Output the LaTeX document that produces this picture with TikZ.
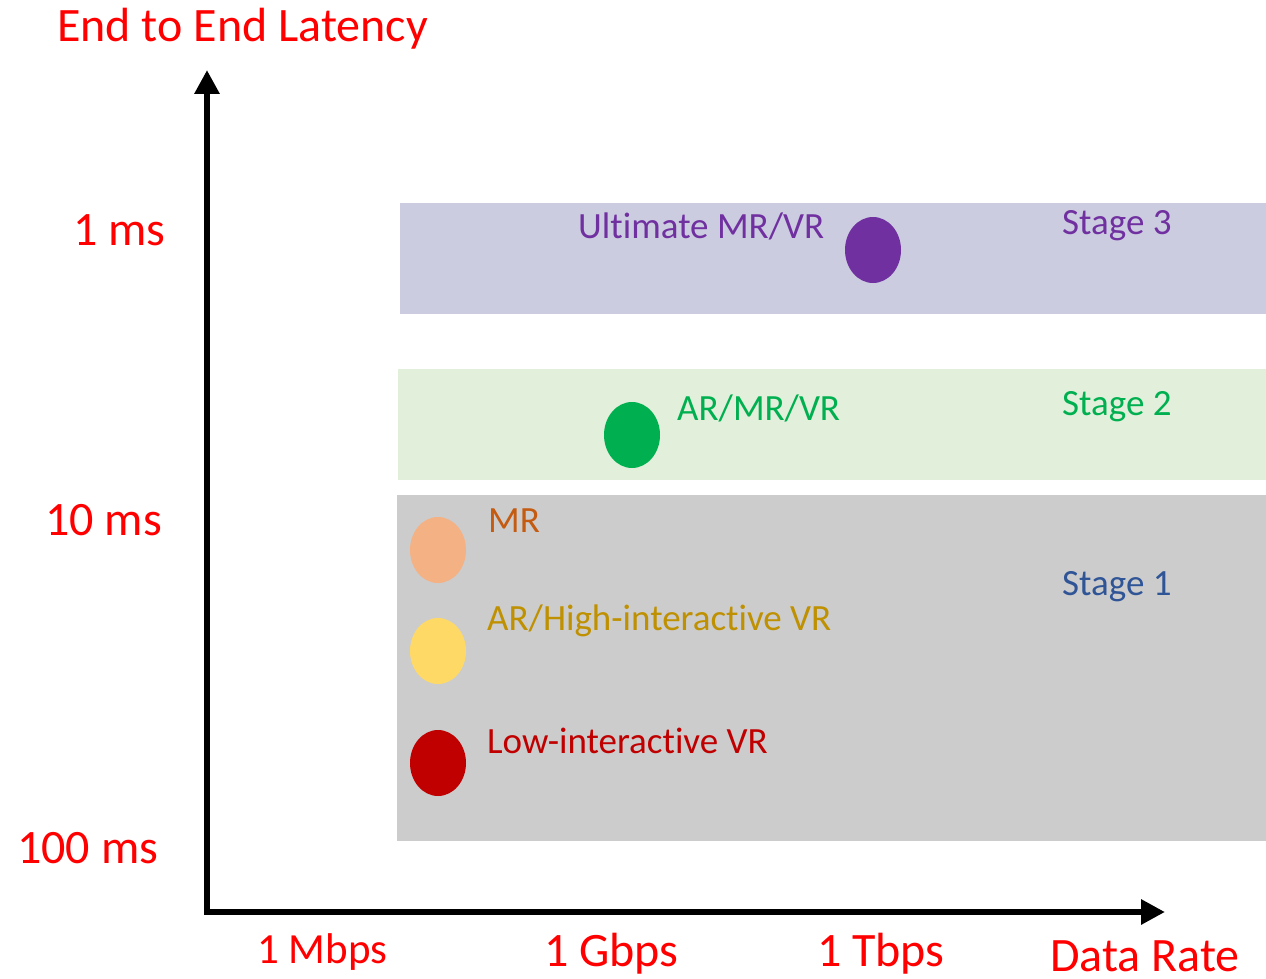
\documentclass[tikz,border=0pt]{standalone}
\usepackage{fontspec}
\setmainfont[Ligatures=NoCommon]{Carlito}
\usetikzlibrary{arrows.meta,shapes.geometric}
\definecolor{axred}{HTML}{FF0000}
\definecolor{bandthree}{HTML}{CCCCE1}
\definecolor{bandtwo}{HTML}{E2EFDA}
\definecolor{bandone}{HTML}{CCCCCC}
\definecolor{purp}{HTML}{7030A0}
\definecolor{grn}{HTML}{00B050}
\definecolor{peach}{HTML}{F4B183}
\definecolor{gold}{HTML}{FFD966}
\definecolor{darkred}{HTML}{C00000}
\definecolor{mrorange}{HTML}{C55A11}
\definecolor{golddark}{HTML}{BF9000}
\definecolor{stageblue}{HTML}{2F5597}
\tikzset{
  axislabel/.style={text=axred, inner sep=0pt, anchor=base west, font=\fontsize{48}{52}\selectfont},
  bandlabel/.style={inner sep=0pt, anchor=base west, font=\fontsize{37}{42}\selectfont},
  dot/.style={ellipse, minimum width=56pt, minimum height=66pt, inner sep=0pt},
  axis/.style={line width=6pt, -{Triangle[length=24pt,width=24pt]}}
}
\begin{document}
\begin{tikzpicture}[x=1pt,y=-1pt]
\useasboundingbox (0,0) rectangle (1266,979);
% stage bands
\fill[bandthree] (400,203) rectangle (1266,314);
\fill[bandtwo] (398,369) rectangle (1266,480);
\fill[bandone] (397,495) rectangle (1266,841);
% axes
\coordinate (o) at (207,912);
\coordinate (ytop) at (207,70);
\coordinate (xend) at (1165,912);
\draw[axis] (o) -- (ytop);
\draw[axis] ([xshift=-3pt]o) -- (xend);
% axis titles and ticks
\node[axislabel] (ylab) at (57,42) {End to End Latency};
\node[axislabel] (l1) at (73,245) {1 ms};
\node[axislabel] (l10) at (45,535) {10 ms};
\node[axislabel] (l100) at (17,863) {100 ms};
\node[axislabel, font=\fontsize{43}{47}\selectfont] (r1) at (257,963) {1 Mbps};
\node[axislabel] (r2) at (544,966) {1 Gbps};
\node[axislabel] (r3) at (817,966) {1 Tbps};
\node[axislabel] (xlab) at (1050,971) {Data Rate};
% applications
\node[dot, fill=purp] (ult) at (873,250) {};
\node[dot, fill=grn] (armrvr) at (632,435) {};
\node[dot, fill=peach] (mr) at (438,550) {};
\node[dot, fill=gold] (arhi) at (438,651) {};
\node[dot, fill=darkred] (lowvr) at (438,763) {};
\node[bandlabel, text=purp] (tult) at (578,238) {Ultimate MR/VR};
\node[bandlabel, text=purp] (s3) at (1062,234) {Stage 3};
\node[bandlabel, text=grn] (tarmrvr) at (677,420) {AR/MR/VR};
\node[bandlabel, text=grn] (s2) at (1062,415) {Stage 2};
\node[bandlabel, text=mrorange] (tmr) at (488,532) {MR};
\node[bandlabel, text=stageblue] (s1) at (1062,595) {Stage 1};
\node[bandlabel, text=golddark] (tarhi) at (487,630) {AR/High-interactive VR};
\node[bandlabel, text=darkred] (tlow) at (487,753) {Low-interactive VR};
\end{tikzpicture}
\end{document}
